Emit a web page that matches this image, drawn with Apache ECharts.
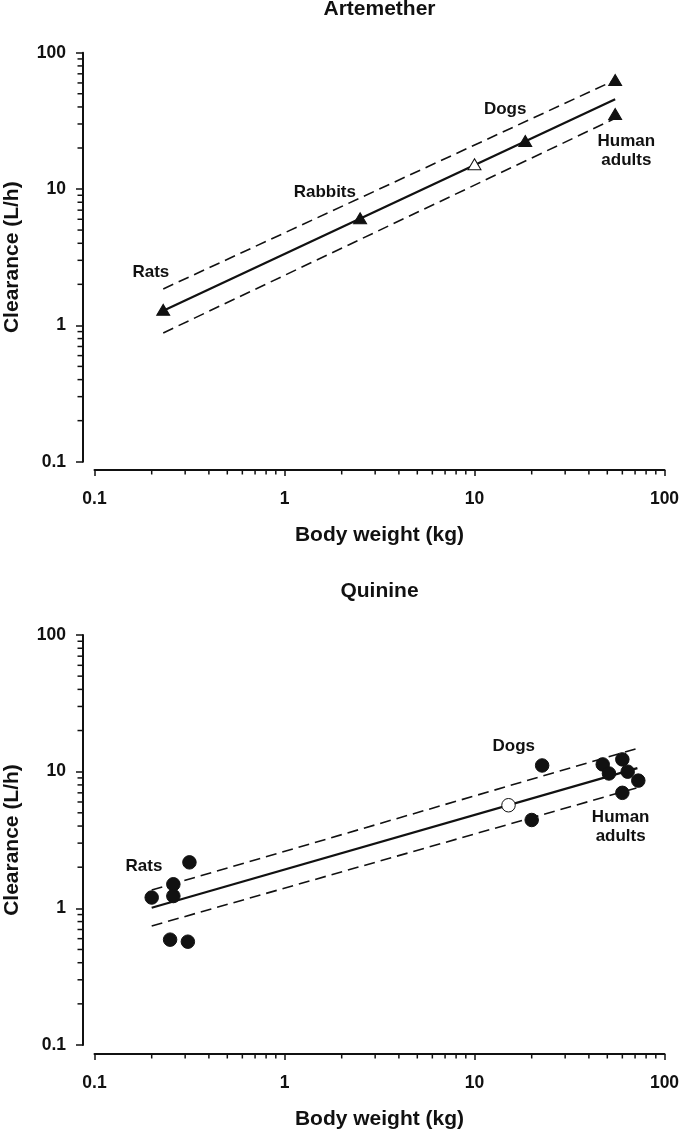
<!DOCTYPE html>
<html>
<head>
<meta charset="utf-8">
<script src="https://cdn.jsdelivr.net/npm/echarts@6/dist/echarts.min.js"></script>
<style>
html,body{margin:0;padding:0;background:#fff;}
#chart{width:680px;height:1131px;}
</style>
</head>
<body>
<div id="chart"></div>
<script>
// ---------- DATA ----------
const chartTitles = ['Artemether', 'Quinine'];
const majorTicks = [0.1, 1, 10, 100];
const minorMultipliers = [2, 3, 4, 5, 6, 7, 8, 9];

// Artemether: observed species (filled triangles)
const artWeight = [0.23, 2.5, 18.5, 55, 55];
const artClearance = [1.3, 6.1, 22.5, 63, 35.5];
// Artemether: predicted (open triangle)
const artPredWeight = [10];
const artPredClearance = [15.2];
// Artemether: regression and interval lines
const artLineWeight = [0.23, 55];
const artFit = [1.28, 45.6];
const artUpper = [1.85, 63];
const artLower = [0.88, 33];
// Artemether annotations
const artNoteText = ['Rats', 'Rabbits', 'Dogs', 'Human\nadults'];
const artNoteWeight = [0.198, 1.63, 14.5, 63];
const artNoteClearance = [2.47, 9.5, 38.5, 19.2];

// Quinine: observed (filled circles)
const quinWeight = [0.20, 0.26, 0.26, 0.316, 0.25, 0.31, 20, 22.7, 47.3, 60, 51, 64, 72.8, 60];
const quinClearance = [1.20, 1.50, 1.23, 2.17, 0.59, 0.57, 4.43, 11.1, 11.3, 12.3, 9.7, 10.0, 8.6, 7.0];
// Quinine: predicted (open circle)
const quinPredWeight = [15.1];
const quinPredClearance = [5.68];
// Quinine: regression and interval lines
const quinLineWeight = [0.2, 72];
const quinFit = [1.01, 10.6];
const quinUpper = [1.36, 14.8];
const quinLower = [0.743, 7.64];
// Quinine annotations
const quinNoteText = ['Rats', 'Dogs', 'Human\nadults'];
const quinNoteWeight = [0.182, 16.1, 58.8];
const quinNoteClearance = [2.02, 15.4, 3.96];

// ---------- HELPERS ----------
const FONT = '"Liberation Sans", Arial, Helvetica, sans-serif';
const INK = '#111111';
const zip = (xs, ys) => xs.map((x, i) => [x, ys[i]]);
const minorTicks = [];
majorTicks.slice(0, -1).forEach(d => minorMultipliers.forEach(m => minorTicks.push(+(d * m).toPrecision(3))));

const grids = [
  { left: 94.5, top: 52.7, width: 570, height: 409, xOff: 8.3, yOff: 11.5 },
  { left: 94.5, top: 635, width: 570, height: 410, xOff: 9, yOff: 11.5 }
];

const xAxes = [], yAxes = [];
grids.forEach((g, gi) => {
  const common = { type: 'log', logBase: 10, min: 0.1, max: 100, gridIndex: gi, splitLine: { show: false }, minorTick: { show: false } };
  xAxes.push(Object.assign({}, common, {
    position: 'bottom', offset: g.xOff,
    axisLine: { show: true, lineStyle: { color: INK, width: 2 } },
    axisTick: { show: true, inside: false, length: 6, lineStyle: { color: INK, width: 1.5 } },
    axisLabel: { show: true, margin: 20, fontFamily: FONT, fontWeight: 'bold', fontSize: 17.5, color: INK, formatter: v => String(v) },
    name: 'Body weight (kg)', nameLocation: 'middle', nameGap: 55, nameMoveOverlap: false,
    nameTextStyle: { fontFamily: FONT, fontWeight: 'bold', fontSize: 21, color: INK }
  }));
  yAxes.push(Object.assign({}, common, {
    position: 'left', offset: g.yOff,
    axisLine: { show: true, lineStyle: { color: INK, width: 2 } },
    axisTick: { show: true, inside: false, length: 7, lineStyle: { color: INK, width: 1.5 } },
    axisLabel: { show: true, margin: 17, fontFamily: FONT, fontWeight: 'bold', fontSize: 17.5, color: INK, formatter: v => String(v) },
    name: 'Clearance (L/h)', nameLocation: 'middle', nameGap: 60, nameRotate: 90, nameMoveOverlap: false,
    nameTextStyle: { fontFamily: FONT, fontWeight: 'bold', fontSize: 21, color: INK }
  }));
});

function lineSeries(ai, xs, ys, dashed) {
  return {
    type: 'line', xAxisIndex: ai, yAxisIndex: ai, data: zip(xs, ys),
    showSymbol: false, symbol: 'none', silent: true, z: 2,
    lineStyle: dashed ? { color: INK, width: 1.6, type: [11, 6] } : { color: INK, width: 2.3 }
  };
}
function scatterSeries(ai, xs, ys, symbol, size, fill) {
  return {
    type: 'scatter', xAxisIndex: ai, yAxisIndex: ai, data: zip(xs, ys),
    symbol: symbol, symbolSize: size, z: 5,
    itemStyle: { color: fill, borderColor: INK, borderWidth: 1, opacity: 1 }
  };
}

const series = [
  lineSeries(0, artLineWeight, artUpper, true),
  lineSeries(0, artLineWeight, artLower, true),
  lineSeries(0, artLineWeight, artFit, false),
  scatterSeries(0, artWeight, artClearance, 'triangle', [13, 11], INK),
  scatterSeries(0, artPredWeight, artPredClearance, 'triangle', [13, 11], '#fff'),

  lineSeries(1, quinLineWeight, quinUpper, true),
  lineSeries(1, quinLineWeight, quinLower, true),
  lineSeries(1, quinLineWeight, quinFit, false),
  scatterSeries(1, quinWeight, quinClearance, 'circle', 13.5, INK),
  scatterSeries(1, quinPredWeight, quinPredClearance, 'circle', 13.5, '#fff')
];

const chart = echarts.init(document.getElementById('chart'), null, { renderer: 'canvas' });
chart.setOption({
  animation: false,
  backgroundColor: '#fff',
  title: chartTitles.map((t, i) => ({
    text: t, left: 379.5, top: i === 0 ? -1 : 581, textAlign: 'center', padding: 0,
    textStyle: { fontFamily: FONT, fontWeight: 'bold', fontSize: 21, color: INK }
  })),
  grid: grids.map(g => ({ left: g.left, top: g.top, width: g.width, height: g.height, containLabel: false, outerBoundsMode: 'none' })),
  xAxis: xAxes,
  yAxis: yAxes,
  series: series
});

// Minor ticks and annotations placed through the chart's own coordinate conversion
const graphics = [];
grids.forEach((g, gi) => {
  const finder = { xAxisIndex: gi, yAxisIndex: gi };
  const origin = chart.convertToPixel(finder, [0.1, 0.1]);
  const xLineY = origin[1] + g.xOff;
  const yLineX = origin[0] - g.yOff;
  minorTicks.forEach(v => {
    const p = chart.convertToPixel(finder, [v, v]);
    graphics.push({ type: 'rect', silent: true, z: 50,
      shape: { x: p[0] - 0.75, y: xLineY, width: 1.5, height: 4.5 },
      style: { fill: INK } });
    graphics.push({ type: 'rect', silent: true, z: 50,
      shape: { x: yLineX - 5.5, y: p[1] - 0.75, width: 5.5, height: 1.5 },
      style: { fill: INK } });
  });
});
const notes = [
  { ai: 0, xs: artNoteWeight, ys: artNoteClearance, texts: artNoteText },
  { ai: 1, xs: quinNoteWeight, ys: quinNoteClearance, texts: quinNoteText }
];
notes.forEach(n => {
  n.xs.forEach((x, i) => {
    const p = chart.convertToPixel({ xAxisIndex: n.ai, yAxisIndex: n.ai }, [x, n.ys[i]]);
    graphics.push({
      type: 'text', x: p[0], y: p[1], z: 100, silent: true,
      style: { text: n.texts[i], fill: INK, font: 'bold 17px ' + FONT, align: 'center', verticalAlign: 'middle', lineHeight: 19 }
    });
  });
});
chart.setOption({ graphic: graphics });
</script>
</body>
</html>
